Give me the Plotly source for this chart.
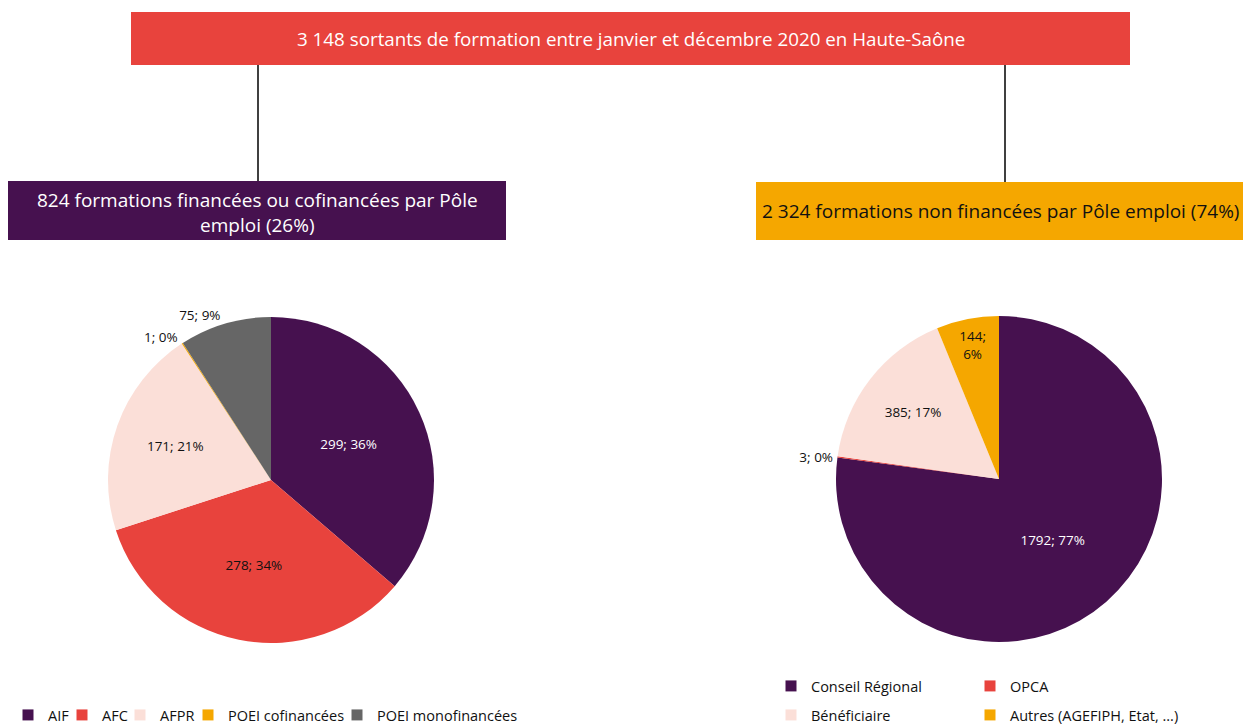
import plotly.graph_objects as go

# ---- data ----
title_main = "3 148 sortants de formation entre janvier et décembre 2020 en Haute-Saône"
title_left = "824 formations financées ou cofinancées par Pôle<br>emploi (26%)"
title_right = "2 324 formations non financées par Pôle emploi (74%)"

left_labels = ["AIF", "AFC", "AFPR", "POEI cofinancées", "POEI monofinancées"]
left_values = [299, 278, 171, 1, 75]

right_labels = ["Conseil Régional", "OPCA", "Bénéficiaire", "Autres (AGEFIPH, Etat, ...)"]
right_values = [1792, 3, 385, 144]

# ---- styles ----
PURPLE = "#46114F"
RED = "#E8433D"
PINK = "#FBDFD8"
ORANGE = "#F5A700"
GREY = "#666666"
FONT = "Open Sans"
W, H = 1251, 724
OFF = 8  # page body margin compensation


def px(x):
    return (x - OFF) / W


def py(y):
    return 1 - (y - OFF) / H


left_colors = [PURPLE, RED, PINK, ORANGE, GREY]
right_colors = [PURPLE, RED, PINK, ORANGE]

# legend entry anchors (page px): left edge of each entry and row centre
left_leg_x = [8, 62, 120, 188, 337]
left_leg_y = [715, 715, 715, 715, 715]
right_leg_x = [771, 970, 771, 970]
right_leg_y = [686, 686, 715, 715]

left_tt = ["%{value}; %{percent:.0%}"] * 5
right_tt = ["%{value}; %{percent:.0%}", "%{value}; %{percent:.0%}",
            "%{value}; %{percent:.0%}", "%{value};<br>%{percent:.0%}"]

LABEL_SIZE = 13.5

fig = go.Figure()

fig.add_trace(go.Pie(
    labels=left_labels, values=left_values, sort=False,
    direction="clockwise", rotation=0,
    marker=dict(colors=left_colors, line=dict(width=0)),
    texttemplate=left_tt,
    textposition=["inside", "inside", "inside", "outside", "outside"],
    insidetextorientation="horizontal",
    insidetextfont=dict(color=["white", "#111111", "#111111", "#111111", "#111111"],
                        size=LABEL_SIZE, family=FONT),
    outsidetextfont=dict(color="#111111", size=LABEL_SIZE, family=FONT),
    domain=dict(x=[px(108), px(434)], y=[py(643), py(317)]),
    showlegend=False, hoverinfo="label+value+percent",
))

fig.add_trace(go.Pie(
    labels=right_labels, values=right_values, sort=False,
    direction="clockwise", rotation=0,
    marker=dict(colors=right_colors, line=dict(width=0)),
    texttemplate=right_tt,
    textposition=["inside", "outside", "inside", "inside"],
    insidetextorientation="horizontal",
    insidetextfont=dict(color=["white", "#111111", "#111111", "#111111"],
                        size=LABEL_SIZE, family=FONT),
    outsidetextfont=dict(color="#111111", size=LABEL_SIZE, family=FONT),
    domain=dict(x=[px(836), px(1162)], y=[py(642), py(316)]),
    showlegend=False, hoverinfo="label+value+percent",
))

LEG_FONT = dict(size=14.5, family=FONT, color="#111111")
legend_layouts = {}
n = 0
for labels, colors, xs, ys in [(left_labels, left_colors, left_leg_x, left_leg_y),
                               (right_labels, right_colors, right_leg_x, right_leg_y)]:
    for lab, col, lx, ly in zip(labels, colors, xs, ys):
        n += 1
        name = "legend" if n == 1 else f"legend{n}"
        fig.add_trace(go.Scatter(
            x=[None], y=[None], mode="markers", name=lab,
            marker=dict(symbol="square", size=11, color=col),
            legend=name, showlegend=True, hoverinfo="skip",
        ))
        legend_layouts[name] = dict(orientation="h", x=px(lx), y=py(ly),
                                    xanchor="left", yanchor="middle",
                                    font=LEG_FONT, itemwidth=30,
                                    bgcolor="rgba(0,0,0,0)")

shapes = [
    dict(type="rect", xref="paper", yref="paper", x0=px(131), x1=px(1130), y0=py(65), y1=py(12),
         fillcolor=RED, line=dict(width=0), layer="below"),
    dict(type="rect", xref="paper", yref="paper", x0=px(7), x1=px(506), y0=py(240), y1=py(181),
         fillcolor=PURPLE, line=dict(width=0), layer="below"),
    dict(type="rect", xref="paper", yref="paper", x0=px(756), x1=px(1270), y0=py(240), y1=py(182),
         fillcolor=ORANGE, line=dict(width=0), layer="below"),
    dict(type="line", xref="paper", yref="paper", x0=px(258), x1=px(258), y0=py(65), y1=py(181),
         line=dict(color="black", width=1.5)),
    dict(type="line", xref="paper", yref="paper", x0=px(1005), x1=px(1005), y0=py(65), y1=py(182),
         line=dict(color="black", width=1.5)),
]

annotations = [
    dict(text=title_main, xref="paper", yref="paper", x=px(631), y=py(39), showarrow=False,
         font=dict(color="white", size=18.8, family=FONT), xanchor="center", yanchor="middle"),
    dict(text=title_left, xref="paper", yref="paper", x=px(257), y=py(212), showarrow=False,
         font=dict(color="white", size=19, family=FONT), xanchor="center", yanchor="middle",
         align="center"),
    dict(text=title_right, xref="paper", yref="paper", x=px(1001), y=py(211), showarrow=False,
         font=dict(color="#111111", size=19, family=FONT), xanchor="center", yanchor="middle"),
]

fig.update_layout(
    width=W, height=H,
    margin=dict(l=0, r=0, t=0, b=0),
    paper_bgcolor="white", plot_bgcolor="white",
    font=dict(family=FONT, size=15, color="#111111"),
    shapes=shapes, annotations=annotations,
    xaxis=dict(visible=False, range=[0, 1]),
    yaxis=dict(visible=False, range=[0, 1]),
    **legend_layouts,
)

fig.write_html("out.html")
